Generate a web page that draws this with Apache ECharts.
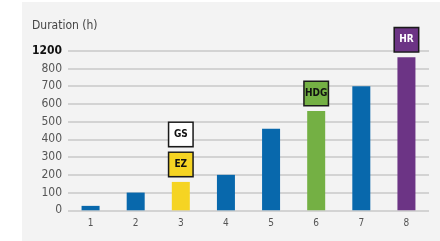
<!DOCTYPE html>
<html><head><meta charset="utf-8">
<script src="https://cdn.jsdelivr.net/npm/echarts@6/dist/echarts.min.js"></script>
<style>html,body{margin:0;padding:0;background:#fff}#c{width:440px;height:241px}</style>
</head><body><div id="c"></div>
<script>
// Data
const categories = ['1','2','3','4','5','6','7','8'];
const durations = [25, 100, 160, 200, 460, 560, 700, 1050];
const barColors = ['#0868ac','#0868ac','#f5d423','#0868ac','#0868ac','#74b044','#0868ac','#6c3485'];
const tagLabels = ['', '', 'EZ', '', '', 'HDG', '', 'HR'];
const tagFills = ['', '', '#f5d423', '', '', '#74b044', '', '#6c3485'];
const tagText = ['', '', '#111', '', '', '#111', '', '#fff'];
const extraTags = ['', '', 'GS', '', '', '', '', ''];
const tickLabels = ['0','100','200','300','400','500','600','700','800','1200'];

// broken axis: 0..800 linear, then one step spans 800..1200
function toAxis(v){ return v <= 800 ? v : 800 + (v - 800) / 4; }

const FONT = 'DejaVu Sans Condensed';
const boxLabel = (text, fill, color) => ({
  show: !!text, position: 'top', distance: 6,
  formatter: text, backgroundColor: fill, borderColor: '#1a1a1a', borderWidth: 1.5,
  width: 23, height: 23, lineHeight: 23, align: 'center',
  color: color, fontFamily: FONT, fontWeight: 'bold', fontSize: 10, padding: 0
});

const chart = echarts.init(document.getElementById('c'), null, {renderer: 'canvas'});
chart.setOption({
  animation: false,
  graphic: [{type: 'rect', z: -10, shape: {x: 22, y: 2, width: 418, height: 239}, style: {fill: '#f3f3f3'}},
    {type: 'text', left: 32, top: 20, style: {text: 'Duration (h)', font: '12px "' + FONT + '"', fill: '#444'}}],
  grid: {left: 68, right: 11, top: 50.7, bottom: 30.7},
  xAxis: {type: 'category', data: categories,
    axisLine: {show: false}, axisTick: {show: false},
    axisLabel: {color: '#555', fontSize: 10, fontFamily: FONT, margin: 8}},
  yAxis: {type: 'value', min: 0, max: 900, interval: 100,
    axisLine: {show: false}, axisTick: {show: false},
    splitLine: {lineStyle: {color: '#c8c8c8', width: 1.5}},
    axisLabel: {margin: 6, fontFamily: FONT, fontSize: 12,
      formatter: (v) => { const i = Math.round(v / 100); return i === 9 ? '{b|' + tickLabels[i] + '}' : tickLabels[i]; },
      color: '#555',
      rich: {b: {fontWeight: 'bold', color: '#111', fontSize: 12, fontFamily: FONT}}}},
  series: [
    {type: 'bar', barWidth: 18, z: 3,
      data: durations.map((v, i) => ({value: toAxis(v), itemStyle: {color: barColors[i]},
        label: boxLabel(tagLabels[i], tagFills[i], tagText[i])}))},
    {type: 'bar', barWidth: 18, barGap: '-100%', z: 2,
      data: durations.map((v, i) => ({value: toAxis(v), itemStyle: {color: 'rgba(0,0,0,0)'},
        label: Object.assign(boxLabel(extraTags[i], '#ffffff', '#111'), {distance: 36})}))}
  ]
});
</script></body></html>
